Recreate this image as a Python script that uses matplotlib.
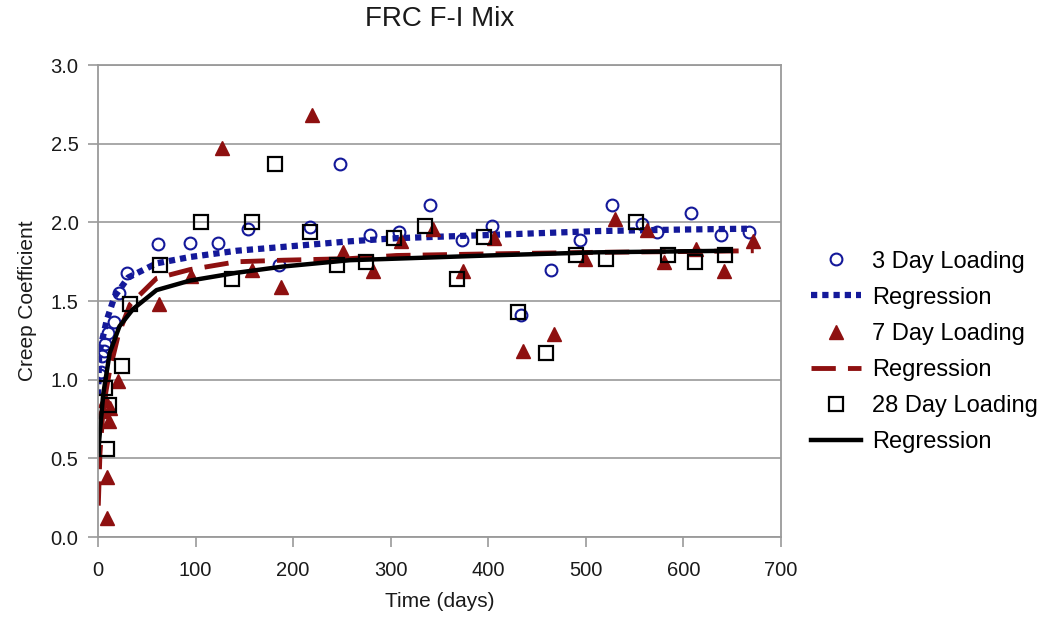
import matplotlib
matplotlib.use("Agg")
import matplotlib.pyplot as plt

plt.rcParams["font.family"] = ["Liberation Sans", "DejaVu Sans"]

day3_t = [2, 3, 4, 6, 7, 10, 16, 22, 30, 61, 94, 123, 154, 186, 217, 248, 279,
          308, 340, 373, 404, 434, 464, 494, 527, 558, 573, 608, 638, 667]
day3_v = [1.03, 1.05, 1.15, 1.18, 1.23, 1.30, 1.37, 1.55, 1.68, 1.86, 1.87, 1.87,
          1.96, 1.73, 1.97, 2.37, 1.92, 1.94, 2.11, 1.89, 1.98, 1.41, 1.70, 1.89,
          2.11, 1.99, 1.94, 2.06, 1.92, 1.94]

day7_t = [5, 7, 9, 9, 11, 12, 21, 63, 95, 127, 158, 188, 219, 251, 282, 311,
          343, 374, 406, 436, 467, 499, 530, 563, 580, 613, 642, 671]
day7_v = [0.80, 0.87, 0.38, 0.12, 0.74, 0.82, 0.99, 1.48, 1.66, 2.47, 1.70, 1.59,
          2.68, 1.81, 1.69, 1.88, 1.96, 1.69, 1.90, 1.18, 1.29, 1.77, 2.02, 1.95,
          1.75, 1.83, 1.69, 1.88]

day28_t = [7, 9, 11, 25, 33, 64, 106, 137, 158, 181, 217, 245, 275, 303, 335,
           368, 396, 430, 459, 490, 521, 551, 584, 612, 643]
day28_v = [0.95, 0.56, 0.84, 1.09, 1.48, 1.73, 2.00, 1.64, 2.00, 2.37, 1.94, 1.73,
           1.75, 1.90, 1.98, 1.64, 1.91, 1.43, 1.17, 1.79, 1.77, 2.00, 1.79, 1.75,
           1.79]

# regression curves
reg3_t = [0, 1.3, 9, 17, 31, 60, 94, 142, 181, 258, 306, 400, 511, 600, 665]
reg3_v = [0.90, 1.17, 1.38, 1.53, 1.65, 1.74, 1.78, 1.82, 1.84, 1.88, 1.90, 1.92, 1.945, 1.955, 1.96]

reg7_t = [0.3, 2, 5.4, 12, 21, 33, 60, 94, 142, 190, 258, 306, 400, 511, 600, 672]
reg7_v = [0.20, 0.53, 0.83, 1.06, 1.29, 1.48, 1.645, 1.70, 1.75, 1.76, 1.77, 1.79, 1.80, 1.81, 1.815, 1.82]

reg28_t = [0.3, 5.4, 12, 22, 36, 60, 94, 142, 190, 258, 306, 400, 511, 647]
reg28_v = [0.55, 0.91, 1.17, 1.34, 1.45, 1.57, 1.63, 1.68, 1.72, 1.76, 1.77, 1.79, 1.81, 1.82]

x_ticks = [0, 100, 200, 300, 400, 500, 600, 700]
y_ticks = [0.0, 0.5, 1.0, 1.5, 2.0, 2.5, 3.0]
y_labels = ["0.0", "0.5", "1.0", "1.5", "2.0", "2.5", "3.0"]

BLUE = "#14199a"
RED = "#8e1010"
GRAY = "#9a9a9a"
TEXT = "#1a1a1a"

fig = plt.figure(figsize=(10.47, 6.26), dpi=100)
ax = fig.add_axes([0.0936, 0.142, 0.6524, 0.754])

ax.plot(day3_t, day3_v, "o", ls="none", ms=8.5, mfc="none", mec=BLUE, mew=1.5,
        label="3 Day Loading")
ax.plot(reg3_t, reg3_v, color=BLUE, lw=4.5, ls=(0, (1, 0.8)), label="Regression")
ax.plot(day7_t, day7_v, "^", ls="none", ms=9.5, color=RED, label="7 Day Loading")
ax.plot(reg7_t, reg7_v, color=RED, lw=3.5, ls=(0, (5, 2.5)), label="Regression")
ax.plot(day28_t, day28_v, "s", ls="none", ms=10, mfc="none", mec="black", mew=1.6,
        label="28 Day Loading")
ax.plot(reg28_t, reg28_v, color="black", lw=3.2, label="Regression")

ax.set_xlim(0, 700)
ax.set_ylim(0, 3.0)
ax.set_xticks(x_ticks)
ax.set_yticks(y_ticks)
ax.set_yticklabels(y_labels)
ax.yaxis.grid(True, color=GRAY, lw=1.2)
ax.set_axisbelow(True)
ax.tick_params(labelsize=14.5, length=7, width=1.2, color=GRAY,
               labelcolor=TEXT, direction="out")
ax.tick_params(axis="x", pad=10)
ax.tick_params(axis="y", pad=7)

for s in ax.spines.values():
    s.set_color(GRAY)
    s.set_linewidth(1.3)

fig.text(0.42, 1 - 19 / 626, "FRC F-I Mix", fontsize=20, color=TEXT,
         ha="center", va="center")
ax.set_xlabel("Time (days)", fontsize=15, labelpad=9, color=TEXT)
ax.set_ylabel("Creep Coefficient", fontsize=15, labelpad=10, color=TEXT)

fig.legend(loc="center left", bbox_to_anchor=(0.766, 0.4377), frameon=False,
           borderaxespad=0, fontsize=17, handlelength=2.1, labelspacing=0.6,
           handletextpad=0.47)

fig.savefig("out.png", dpi=100)
